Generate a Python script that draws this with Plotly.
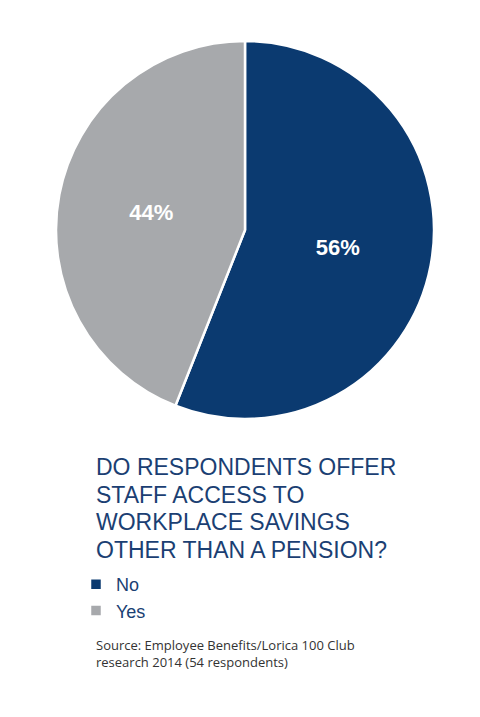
import plotly.graph_objects as go

# data
labels = ["No", "Yes"]
values = [56, 44]
colors = ["#0b3a70", "#a7a9ac"]

title_lines = [
    "DO RESPONDENTS OFFER",
    "STAFF ACCESS TO",
    "WORKPLACE SAVINGS",
    "OTHER THAN A PENSION?",
]
source_lines = [
    "Source: Employee Benefits/Lorica 100 Club",
    "research 2014 (54 respondents)",
]

W, H = 480, 717

fig = go.Figure()

fig.add_trace(go.Pie(
    labels=labels,
    values=values,
    sort=False,
    direction="clockwise",
    rotation=0,
    marker=dict(colors=colors, line=dict(color="white", width=2.5)),
    texttemplate="%{value}%",
    textposition="inside",
    insidetextorientation="horizontal",
    textfont=dict(family="Liberation Sans Narrow, Arial Narrow, sans-serif",
                  size=22, color="white", weight="bold"),
    hoverinfo="label+percent",
    domain=dict(x=[47 / W, 427 / W], y=[1 - 411 / H, 1 - 33 / H]),
))

# question, une ligne par annotation pour serrer l'interligne
for i, line in enumerate(title_lines):
    fig.add_annotation(
        text=line,
        xref="paper", yref="paper",
        x=86 / W, y=1 - (459 + i * 27.6) / H,
        xanchor="left", yanchor="middle", align="left",
        showarrow=False,
        font=dict(family="Liberation Sans, Arial, sans-serif", size=23, color="#1b3f73"),
    )

# source
fig.add_annotation(
    text="<br>".join(source_lines),
    xref="paper", yref="paper",
    x=86 / W, y=1 - 626 / H,
    xanchor="left", yanchor="top", align="left",
    showarrow=False,
    font=dict(family="Open Sans, Noto Sans, sans-serif", size=13, color="#333333"),
)

fig.update_layout(
    width=W,
    height=H,
    margin=dict(l=0, r=0, t=0, b=0),
    paper_bgcolor="white",
    plot_bgcolor="white",
    showlegend=True,
    legend=dict(
        x=68 / W, y=1 - 558 / H,
        xanchor="left", yanchor="top",
        font=dict(family="Liberation Sans, Arial, sans-serif", size=18, color="#1b3f73"),
        bgcolor="rgba(0,0,0,0)",
        tracegroupgap=0,
    ),
)

fig.write_html("out.html")
